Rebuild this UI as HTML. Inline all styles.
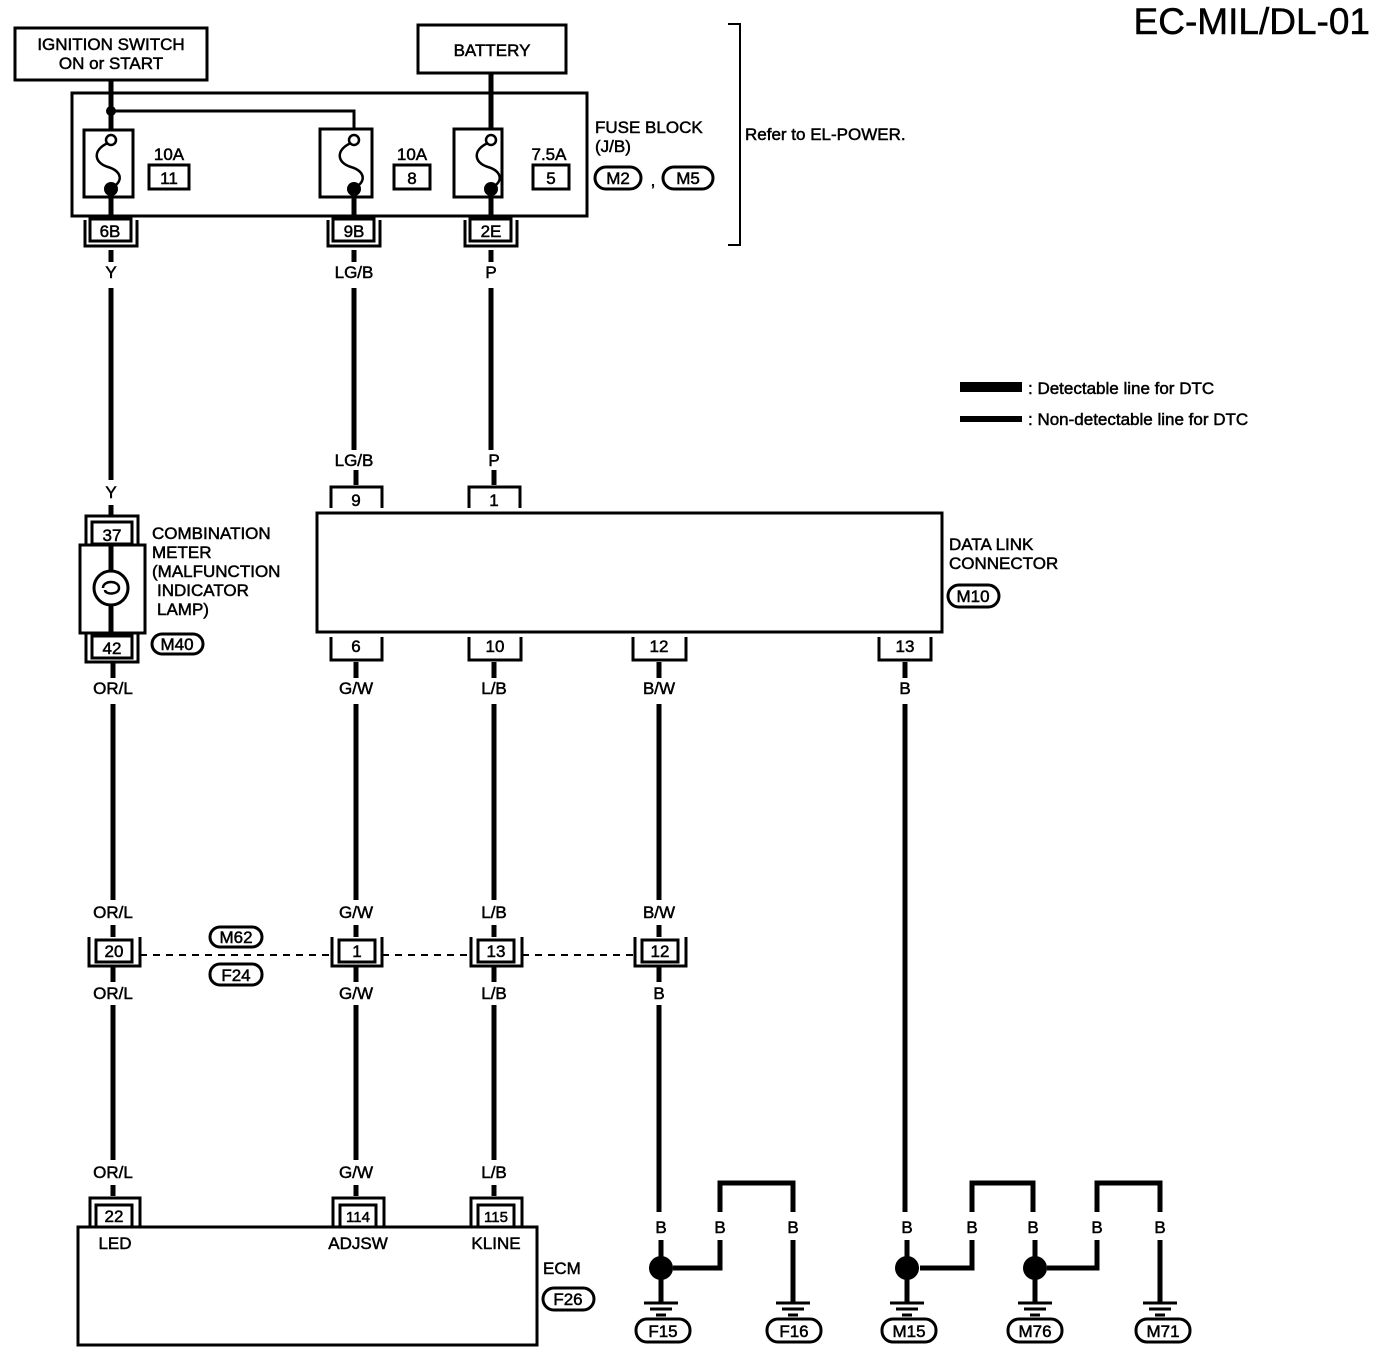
<!DOCTYPE html>
<html><head><meta charset="utf-8"><style>
html,body{margin:0;padding:0;background:#fff}
svg{display:block}
text{font-family:"Liberation Sans",Arial,sans-serif;fill:#000;font-size:17px;stroke:#000;stroke-width:0.5}
</style></head><body>
<svg width="1392" height="1354" viewBox="0 0 1392 1354" xmlns="http://www.w3.org/2000/svg">
<defs>
<g id="ground">
<line x1="0" y1="0" x2="0" y2="8" stroke="#000" stroke-width="5"/>
<line x1="-17" y1="8" x2="17" y2="8" stroke="#000" stroke-width="3"/>
<line x1="-11" y1="14" x2="11" y2="14" stroke="#000" stroke-width="3"/>
<line x1="-5" y1="20" x2="5" y2="20" stroke="#000" stroke-width="3"/>
</g>
</defs>
<text x="1370" y="34" text-anchor="end" style="font-size:37px">EC-MIL/DL-01</text>

<g fill="none" stroke="#000" stroke-width="3">
<rect x="15" y="28" width="192" height="52"/>
<rect x="418" y="25" width="148" height="48"/>
<rect x="72" y="93" width="515" height="123"/>
<path d="M728 24 H740 V245 H728" stroke-width="2"/>
<rect x="84" y="130" width="49" height="67"/>
<rect x="320" y="129" width="52" height="68"/>
<rect x="454" y="129" width="48" height="68"/>
<rect x="149" y="165" width="40" height="24"/>
<rect x="394" y="165" width="36" height="24"/>
<rect x="533" y="165" width="36" height="24"/>
<rect x="317" y="513" width="625" height="119"/>
<rect x="80" y="545" width="65" height="88"/>
<rect x="78" y="1227" width="459" height="118"/>
</g>
<g fill="none" stroke="#000" stroke-width="5">
<path d="M111 80 V130"/><path d="M111 111 H354 V130" stroke-width="3"/>
<path d="M491 73 V130"/>
<path d="M111 197 V218"/><path d="M354 197 V218"/><path d="M491 197 V218"/>
<path d="M111 250 V262"/><path d="M354 250 V262"/><path d="M491 250 V262"/>
<path d="M111 288 V480"/><path d="M354 288 V450"/><path d="M491 288 V450"/>
<path d="M356 470 V485"/><path d="M494 470 V485"/>
<path d="M111 505 V515"/>
<path d="M113 662 V678"/><path d="M356 662 V678"/><path d="M494 662 V678"/><path d="M659 662 V678"/><path d="M905 662 V678"/>
<path d="M113 704 V900"/><path d="M356 704 V900"/><path d="M494 704 V900"/><path d="M659 704 V900"/><path d="M905 704 V1212"/>
<path d="M113 925 V937"/><path d="M356 925 V937"/><path d="M494 925 V937"/><path d="M659 925 V937"/>
<path d="M113 967 V982"/><path d="M356 967 V982"/><path d="M494 967 V982"/><path d="M659 967 V982"/>
<path d="M113 1005 V1160"/><path d="M356 1005 V1160"/><path d="M494 1005 V1160"/><path d="M659 1005 V1212"/>
<path d="M113 1185 V1196"/><path d="M356 1185 V1196"/><path d="M494 1185 V1196"/>
<path d="M661 1240 V1258"/><path d="M661 1278 V1298"/>
<path d="M673 1268 H720 V1240"/><path d="M720 1212 V1183 H793 V1212"/><path d="M793 1240 V1298"/>
<path d="M907 1240 V1298"/><path d="M920 1268 H972 V1240"/><path d="M972 1212 V1183 H1033 V1212"/><path d="M1035 1240 V1298"/>
<path d="M1047 1268 H1097 V1240"/><path d="M1097 1212 V1183 H1160 V1212"/><path d="M1160 1240 V1298"/>
<path d="M111 545 V571"/><path d="M111 605 V633"/>
</g>
<rect x="960" y="382" width="62" height="10" fill="#000"/>
<rect x="960" y="416" width="62" height="6" fill="#000"/>
<text x="1028" y="394">: Detectable line for DTC</text>
<text x="1028" y="425">: Non-detectable line for DTC</text>

<circle cx="111" cy="111" r="5"/>
<g fill="none" stroke="#000" stroke-width="2.5">
<path d="M108 143 C92 150,94 163,108 167 C122 171,124 182,111 188"/>
<path d="M351 143 C335 150,337 163,351 167 C365 171,367 182,354 188"/>
<path d="M488 143 C472 150,474 163,488 167 C502 171,504 182,491 188"/>
</g>
<g stroke="#000" stroke-width="2.5" fill="#fff"><circle cx="111" cy="140" r="5"/><circle cx="354" cy="140" r="5"/><circle cx="491" cy="140" r="5"/></g>
<circle cx="111" cy="189" r="7"/><circle cx="354" cy="189" r="7"/><circle cx="491" cy="189" r="7"/>
<circle cx="111" cy="588" r="17" fill="none" stroke="#000" stroke-width="3"/>
<path d="M103 588 c0 -8 16 -8 16 0 c0 7 -14 7 -14 2" fill="none" stroke="#000" stroke-width="2.5"/>

<g fill="none" stroke="#000" stroke-width="3">
<rect x="90" y="219" width="41" height="22"/><path d="M85 220 V246 H137 V220"/>
<rect x="333" y="219" width="41" height="22"/><path d="M328 220 V246 H380 V220"/>
<rect x="470" y="219" width="41" height="22"/><path d="M465 220 V246 H517 V220"/>
<rect x="92" y="522" width="40" height="22"/><path d="M86 545 V516 H138 V545"/>
<rect x="92" y="636" width="40" height="22"/><path d="M86 633 V662 H138 V633"/>
<path d="M331 508 V487 H382 V508"/><path d="M469 508 V487 H520 V508"/>
<path d="M331 637 V660 H382 V637"/><path d="M469 637 V660 H521 V637"/><path d="M633 637 V660 H686 V637"/><path d="M879 637 V660 H931 V637"/>
<rect x="96" y="940" width="36" height="22"/><path d="M89 937 V966 H140 V937"/>
<rect x="339" y="940" width="36" height="22"/><path d="M332 937 V966 H382 V937"/>
<rect x="478" y="940" width="36" height="22"/><path d="M471 937 V966 H522 V937"/>
<rect x="642" y="940" width="36" height="22"/><path d="M635 937 V966 H686 V937"/>
<rect x="96" y="1205" width="36" height="22"/><path d="M90 1227 V1198 H140 V1227"/>
<rect x="340" y="1205" width="36" height="22"/><path d="M333 1227 V1198 H384 V1227"/>
<rect x="478" y="1205" width="36" height="22"/><path d="M471 1227 V1198 H522 V1227"/>
<path d="M140 955 H332 M382 955 H471 M522 955 H635" stroke-width="2" stroke-dasharray="7,6"/>
<rect x="152" y="634" width="51" height="20" rx="10"/>
<rect x="595" y="167" width="46" height="22" rx="11"/><rect x="663" y="167" width="50" height="22" rx="11"/>
<rect x="948" y="585" width="51" height="22" rx="11"/>
<rect x="210" y="927" width="52" height="20" rx="10"/><rect x="210" y="964" width="52" height="21" rx="10"/>
<rect x="543" y="1288" width="51" height="22" rx="11"/>
<rect x="636" y="1319" width="54" height="23" rx="11"/><rect x="767" y="1319" width="54" height="23" rx="11"/>
<rect x="882" y="1319" width="54" height="23" rx="11"/><rect x="1008" y="1319" width="54" height="23" rx="11"/><rect x="1136" y="1319" width="54" height="23" rx="11"/>
</g>
<circle cx="661" cy="1268" r="12"/><circle cx="907" cy="1268" r="12"/><circle cx="1035" cy="1268" r="12"/>
<use href="#ground" x="661" y="1295"/><use href="#ground" x="793" y="1295"/><use href="#ground" x="907" y="1295"/><use href="#ground" x="1035" y="1295"/><use href="#ground" x="1160" y="1295"/>

<g text-anchor="middle">
<text x="111" y="50">IGNITION SWITCH</text><text x="111" y="69">ON or START</text>
<text x="492" y="56">BATTERY</text>
<text x="169" y="160">10A</text><text x="169" y="184">11</text>
<text x="412" y="160">10A</text><text x="412" y="184">8</text>
<text x="549" y="160">7.5A</text><text x="551" y="184">5</text>
<text x="110" y="237">6B</text><text x="354" y="237">9B</text><text x="491" y="237">2E</text>
<text x="111" y="278">Y</text><text x="354" y="278">LG/B</text><text x="491" y="278">P</text>
<text x="354" y="466">LG/B</text><text x="494" y="466">P</text><text x="111" y="498">Y</text>
<text x="356" y="506">9</text><text x="494" y="506">1</text>
<text x="112" y="541">37</text><text x="112" y="654">42</text><text x="177" y="650">M40</text>
<text x="356" y="652">6</text><text x="495" y="652">10</text><text x="659" y="652">12</text><text x="905" y="652">13</text>
<text x="113" y="694">OR/L</text><text x="356" y="694">G/W</text><text x="494" y="694">L/B</text><text x="659" y="694">B/W</text><text x="905" y="694">B</text>
<text x="113" y="918">OR/L</text><text x="356" y="918">G/W</text><text x="494" y="918">L/B</text><text x="659" y="918">B/W</text>
<text x="114" y="957">20</text><text x="357" y="957">1</text><text x="496" y="957">13</text><text x="660" y="957">12</text>
<text x="236" y="943">M62</text><text x="236" y="981">F24</text>
<text x="113" y="999">OR/L</text><text x="356" y="999">G/W</text><text x="494" y="999">L/B</text><text x="659" y="999">B</text>
<text x="113" y="1178">OR/L</text><text x="356" y="1178">G/W</text><text x="494" y="1178">L/B</text>
<text x="114" y="1222">22</text><text x="358" y="1222" style="font-size:15px">114</text><text x="496" y="1222" style="font-size:15px">115</text>
<text x="115" y="1249">LED</text><text x="358" y="1249">ADJSW</text><text x="496" y="1249">KLINE</text>
<text x="568" y="1305">F26</text>
<text x="661" y="1233">B</text><text x="720" y="1233">B</text><text x="793" y="1233">B</text>
<text x="907" y="1233">B</text><text x="972" y="1233">B</text><text x="1033" y="1233">B</text><text x="1097" y="1233">B</text><text x="1160" y="1233">B</text>
<text x="663" y="1337">F15</text><text x="794" y="1337">F16</text><text x="909" y="1337">M15</text><text x="1035" y="1337">M76</text><text x="1163" y="1337">M71</text>
<text x="618" y="184">M2</text><text x="653" y="186">,</text><text x="688" y="184">M5</text>
<text x="973" y="602">M10</text>
</g>
<text x="595" y="133">FUSE BLOCK</text><text x="595" y="152">(J/B)</text>
<text x="745" y="140">Refer to EL-POWER.</text>
<text x="152" y="539">COMBINATION</text><text x="152" y="558">METER</text><text x="152" y="577">(MALFUNCTION</text><text x="157" y="596">INDICATOR</text><text x="157" y="615">LAMP)</text>
<text x="949" y="550">DATA LINK</text><text x="949" y="569">CONNECTOR</text>
<text x="543" y="1274">ECM</text>
</svg>
</body></html>
